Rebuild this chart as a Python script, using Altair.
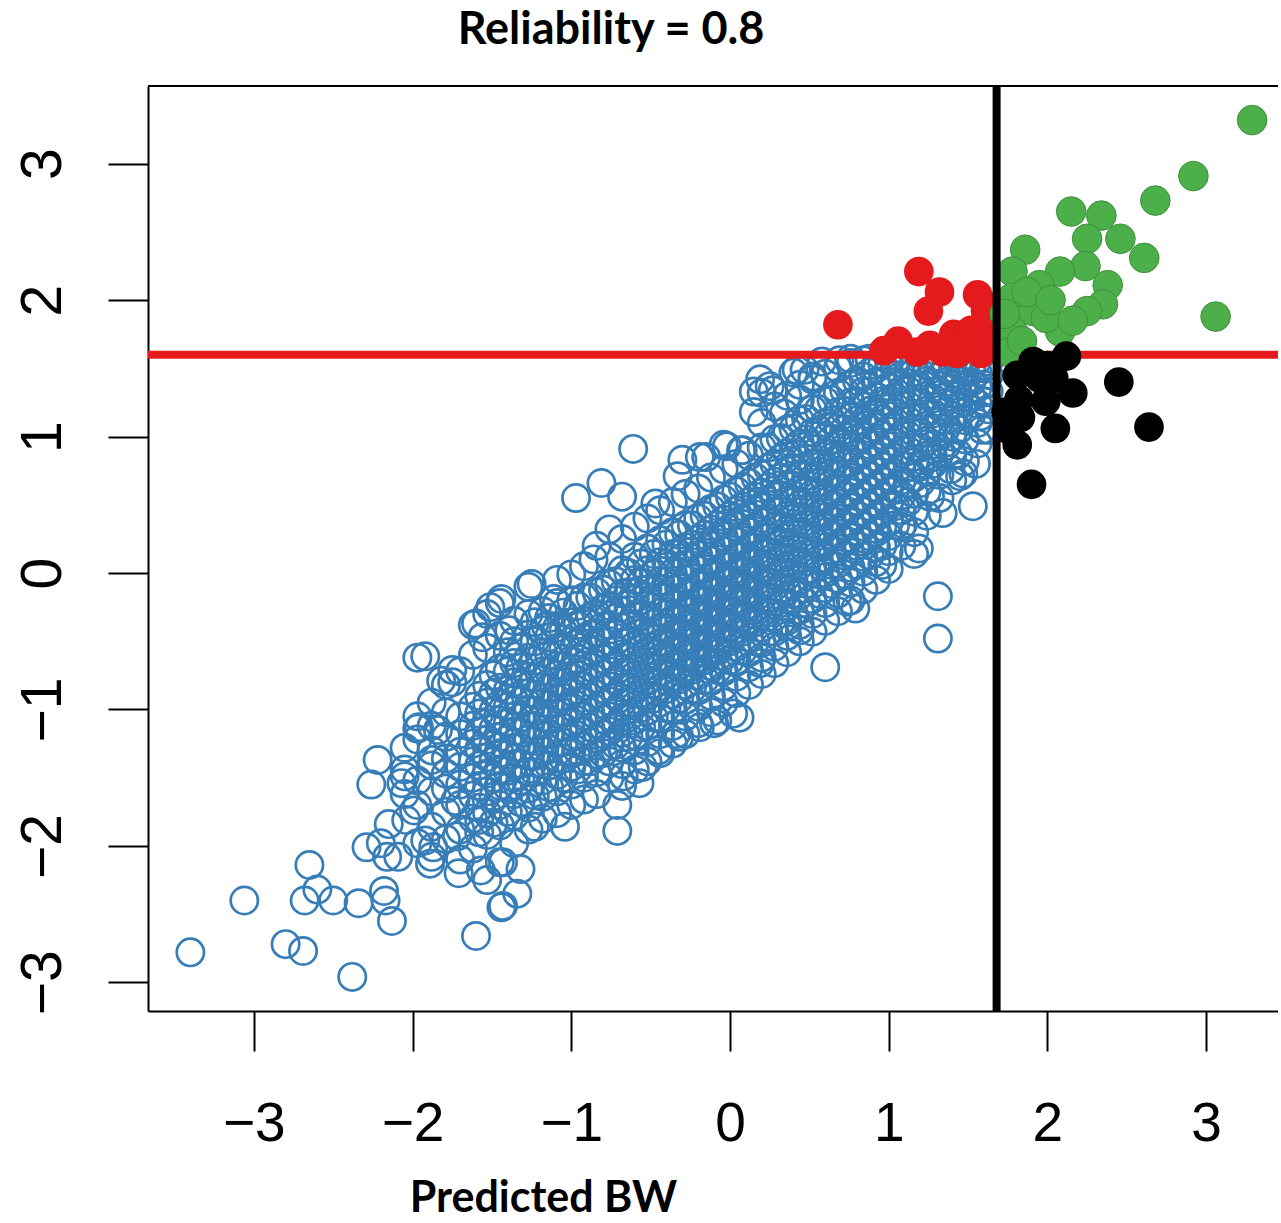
import altair as alt
import pandas as pd

title_text = "Reliability = 0.8"
x_label = "Predicted BW"
tick_values = [-3, -2, -1, 0, 1, 2, 3]
x_domain = [-3.667, 3.453]
y_domain = [-3.21, 3.57]
cut_x = 1.68
cut_y = 1.60

# dense core of the blue cloud, read column by column: (x, [y values])
blue_columns = [
    (-2.05, [-1.62, -1.44, -1.28]),
    (-1.97, [-1.98, -1.70, -1.52, -1.22, -1.05, -0.62]),
    (-1.88, [-2.08, -1.86, -1.60, -1.41, -1.30, -1.12, -0.95]),
    (-1.79, [-1.95, -1.75, -1.58, -1.47, -1.36, -1.20, -1.02, -0.82]),
    (-1.70, [-2.10, -1.88, -1.70, -1.55, -1.42, -1.31, -1.18, -1.05, -0.72]),
    (-1.62, [-2.02, -1.80, -1.63, -1.50, -1.38, -1.25, -1.12, -0.98, -0.60, -0.38]),
    (-1.53, [-2.25, -1.92, -1.76, -1.60, -1.47, -1.35, -1.22, -1.10, -0.95, -0.82, -0.55, -0.30]),
    (-1.45, [-2.12, -1.85, -1.70, -1.56, -1.44, -1.32, -1.20, -1.08, -0.96, -0.84, -0.70, -0.46, -0.22]),
    (-1.36, [-1.98, -1.78, -1.62, -1.50, -1.40, -1.28, -1.16, -1.05, -0.93, -0.80, -0.66, -0.50, -0.35]),
    (-1.27, [-1.88, -1.72, -1.58, -1.46, -1.34, -1.22, -1.12, -1.00, -0.88, -0.76, -0.62, -0.45, -0.30, -0.10]),
    (-1.18, [-1.80, -1.64, -1.52, -1.40, -1.30, -1.18, -1.06, -0.95, -0.84, -0.72, -0.58, -0.42, -0.28]),
    (-1.09, [-1.76, -1.60, -1.48, -1.36, -1.25, -1.14, -1.03, -0.92, -0.80, -0.68, -0.55, -0.40, -0.22, -0.05]),
    (-1.00, [-1.70, -1.55, -1.42, -1.31, -1.20, -1.09, -0.98, -0.87, -0.76, -0.64, -0.50, -0.36, -0.20]),
    (-0.92, [-1.66, -1.50, -1.38, -1.27, -1.16, -1.05, -0.94, -0.83, -0.72, -0.60, -0.48, -0.35, -0.18, 0.05]),
    (-0.84, [-1.62, -1.46, -1.33, -1.22, -1.11, -1.00, -0.89, -0.78, -0.67, -0.56, -0.44, -0.30, -0.14, 0.20]),
    (-0.76, [-1.50, -1.38, -1.27, -1.16, -1.05, -0.94, -0.83, -0.72, -0.61, -0.50, -0.38, -0.24, -0.08, 0.12]),
    (-0.68, [-1.56, -1.40, -1.28, -1.17, -1.06, -0.95, -0.84, -0.73, -0.62, -0.51, -0.40, -0.28, -0.15, 0.02, 0.25]),
    (-0.60, [-1.44, -1.30, -1.19, -1.08, -0.97, -0.86, -0.75, -0.64, -0.53, -0.42, -0.31, -0.19, -0.05, 0.12, 0.34]),
    (-0.52, [-1.38, -1.24, -1.12, -1.01, -0.90, -0.79, -0.68, -0.57, -0.46, -0.35, -0.24, -0.12, 0.02, 0.18, 0.40]),
    (-0.44, [-1.32, -1.18, -1.06, -0.95, -0.84, -0.73, -0.62, -0.51, -0.40, -0.29, -0.18, -0.06, 0.08, 0.24, 0.46]),
    (-0.36, [-1.25, -1.12, -1.00, -0.89, -0.78, -0.67, -0.56, -0.45, -0.34, -0.23, -0.12, 0.00, 0.14, 0.30, 0.52]),
    (-0.28, [-1.18, -1.05, -0.93, -0.82, -0.71, -0.60, -0.49, -0.38, -0.27, -0.16, -0.05, 0.06, 0.19, 0.35, 0.58]),
    (-0.20, [-1.10, -0.98, -0.86, -0.75, -0.64, -0.53, -0.42, -0.31, -0.20, -0.09, 0.02, 0.13, 0.25, 0.40, 0.62]),
    (-0.12, [-1.02, -0.90, -0.79, -0.68, -0.57, -0.46, -0.35, -0.24, -0.13, -0.02, 0.09, 0.20, 0.32, 0.47, 0.70]),
    (-0.04, [-0.95, -0.83, -0.72, -0.61, -0.50, -0.39, -0.28, -0.17, -0.06, 0.05, 0.16, 0.27, 0.39, 0.54, 0.76]),
    (0.04, [-0.88, -0.76, -0.65, -0.54, -0.43, -0.32, -0.21, -0.10, 0.01, 0.12, 0.23, 0.34, 0.46, 0.60, 0.80]),
    (0.12, [-0.82, -0.69, -0.58, -0.47, -0.36, -0.25, -0.14, -0.03, 0.08, 0.19, 0.30, 0.41, 0.52, 0.66, 0.86]),
    (0.20, [-0.74, -0.62, -0.51, -0.40, -0.29, -0.18, -0.07, 0.04, 0.15, 0.26, 0.37, 0.48, 0.59, 0.72, 0.92, 1.10]),
    (0.28, [-0.66, -0.54, -0.43, -0.32, -0.21, -0.10, 0.01, 0.12, 0.23, 0.34, 0.45, 0.56, 0.67, 0.80, 0.98, 1.22]),
    (0.36, [-0.58, -0.46, -0.35, -0.24, -0.13, -0.02, 0.09, 0.20, 0.31, 0.42, 0.53, 0.64, 0.75, 0.88, 1.05, 1.30]),
    (0.44, [-0.50, -0.38, -0.27, -0.16, -0.05, 0.06, 0.17, 0.28, 0.39, 0.50, 0.61, 0.72, 0.83, 0.95, 1.12, 1.38]),
    (0.52, [-0.43, -0.30, -0.19, -0.08, 0.03, 0.14, 0.25, 0.36, 0.47, 0.58, 0.69, 0.80, 0.91, 1.03, 1.20, 1.42]),
    (0.60, [-0.35, -0.22, -0.11, 0.00, 0.11, 0.22, 0.33, 0.44, 0.55, 0.66, 0.77, 0.88, 0.99, 1.10, 1.26, 1.46]),
    (0.68, [-0.28, -0.15, -0.04, 0.07, 0.18, 0.29, 0.40, 0.51, 0.62, 0.73, 0.84, 0.95, 1.06, 1.18, 1.32, 1.50]),
    (0.76, [-0.20, -0.07, 0.04, 0.15, 0.26, 0.37, 0.48, 0.59, 0.70, 0.81, 0.92, 1.03, 1.14, 1.25, 1.38, 1.54]),
    (0.84, [-0.12, 0.01, 0.12, 0.23, 0.34, 0.45, 0.56, 0.67, 0.78, 0.89, 1.00, 1.11, 1.22, 1.33, 1.44, 1.56]),
    (0.92, [-0.05, 0.08, 0.19, 0.30, 0.41, 0.52, 0.63, 0.74, 0.85, 0.96, 1.07, 1.18, 1.29, 1.40, 1.50]),
    (1.00, [0.03, 0.16, 0.27, 0.38, 0.49, 0.60, 0.71, 0.82, 0.93, 1.04, 1.15, 1.26, 1.37, 1.47, 1.56]),
    (1.08, [0.20, 0.34, 0.46, 0.57, 0.68, 0.79, 0.90, 1.01, 1.12, 1.23, 1.34, 1.45, 1.54]),
    (1.16, [0.30, 0.45, 0.58, 0.70, 0.81, 0.92, 1.03, 1.14, 1.25, 1.36, 1.47, 1.55]),
    (1.24, [0.42, 0.60, 0.74, 0.86, 0.97, 1.08, 1.19, 1.30, 1.41, 1.52]),
    (1.32, [0.55, 0.72, 0.88, 1.00, 1.11, 1.22, 1.33, 1.44, 1.54]),
    (1.40, [0.68, 0.86, 1.00, 1.12, 1.24, 1.35, 1.46, 1.55]),
    (1.48, [0.82, 0.98, 1.12, 1.25, 1.37, 1.48, 1.56]),
    (1.56, [0.95, 1.10, 1.24, 1.36, 1.47, 1.56]),
    (1.63, [1.05, 1.20, 1.33, 1.45, 1.55]),
]

# second, offset pass through the densest part of the cloud
blue_columns_inner = [
    (-1.58, [-1.90, -1.72, -1.56, -1.41, -1.29, -1.16, -1.03, -0.90]),
    (-1.49, [-1.83, -1.64, -1.50, -1.38, -1.26, -1.14, -1.01, -0.88, -0.75]),
    (-1.40, [-1.75, -1.57, -1.45, -1.33, -1.22, -1.10, -0.98, -0.86, -0.72, -0.58]),
    (-1.32, [-1.68, -1.52, -1.40, -1.28, -1.17, -1.06, -0.94, -0.82, -0.69, -0.55]),
    (-1.23, [-1.63, -1.46, -1.34, -1.23, -1.12, -1.01, -0.89, -0.77, -0.64, -0.50, -0.36]),
    (-1.14, [-1.57, -1.41, -1.29, -1.18, -1.07, -0.96, -0.84, -0.72, -0.60, -0.47, -0.33]),
    (-1.05, [-1.50, -1.36, -1.24, -1.13, -1.02, -0.91, -0.80, -0.68, -0.56, -0.43, -0.29]),
    (-0.96, [-1.44, -1.30, -1.19, -1.08, -0.97, -0.86, -0.75, -0.63, -0.51, -0.38, -0.24]),
    (-0.88, [-1.38, -1.24, -1.13, -1.02, -0.91, -0.80, -0.69, -0.57, -0.45, -0.32, -0.18]),
    (-0.80, [-1.32, -1.18, -1.07, -0.96, -0.85, -0.74, -0.63, -0.51, -0.39, -0.26, -0.12]),
    (-0.72, [-1.26, -1.12, -1.01, -0.90, -0.79, -0.68, -0.57, -0.45, -0.33, -0.20, -0.06]),
    (-0.64, [-1.20, -1.06, -0.95, -0.84, -0.73, -0.62, -0.51, -0.39, -0.27, -0.14, 0.00]),
    (-0.56, [-1.13, -0.99, -0.88, -0.77, -0.66, -0.55, -0.44, -0.32, -0.20, -0.07, 0.07]),
    (-0.48, [-1.06, -0.92, -0.81, -0.70, -0.59, -0.48, -0.37, -0.25, -0.13, 0.00, 0.14]),
    (-0.40, [-0.99, -0.85, -0.74, -0.63, -0.52, -0.41, -0.30, -0.18, -0.06, 0.07, 0.21]),
    (-0.32, [-0.92, -0.78, -0.67, -0.56, -0.45, -0.34, -0.23, -0.11, 0.01, 0.14, 0.28]),
    (-0.24, [-0.85, -0.71, -0.60, -0.49, -0.38, -0.27, -0.16, -0.04, 0.08, 0.21, 0.35]),
    (-0.16, [-0.78, -0.64, -0.53, -0.42, -0.31, -0.20, -0.09, 0.03, 0.15, 0.28, 0.42]),
    (-0.08, [-0.71, -0.57, -0.46, -0.35, -0.24, -0.13, -0.02, 0.10, 0.22, 0.35, 0.49]),
    (0.00, [-0.64, -0.50, -0.39, -0.28, -0.17, -0.06, 0.05, 0.17, 0.29, 0.42, 0.56]),
    (0.08, [-0.57, -0.43, -0.32, -0.21, -0.10, 0.01, 0.12, 0.24, 0.36, 0.49, 0.63]),
    (0.16, [-0.50, -0.36, -0.25, -0.14, -0.03, 0.08, 0.19, 0.31, 0.43, 0.56, 0.70]),
    (0.24, [-0.43, -0.29, -0.18, -0.07, 0.04, 0.15, 0.26, 0.38, 0.50, 0.63, 0.77, 0.92]),
    (0.32, [-0.36, -0.22, -0.11, 0.00, 0.11, 0.22, 0.33, 0.45, 0.57, 0.70, 0.84, 0.99]),
    (0.40, [-0.29, -0.15, -0.04, 0.07, 0.18, 0.29, 0.40, 0.52, 0.64, 0.77, 0.91, 1.06]),
    (0.48, [-0.22, -0.08, 0.03, 0.14, 0.25, 0.36, 0.47, 0.59, 0.71, 0.84, 0.98, 1.13]),
    (0.56, [-0.15, -0.01, 0.10, 0.21, 0.32, 0.43, 0.54, 0.66, 0.78, 0.91, 1.05, 1.20]),
    (0.64, [-0.08, 0.06, 0.17, 0.28, 0.39, 0.50, 0.61, 0.73, 0.85, 0.98, 1.12, 1.27]),
    (0.72, [-0.01, 0.13, 0.24, 0.35, 0.46, 0.57, 0.68, 0.80, 0.92, 1.05, 1.19, 1.34]),
    (0.80, [0.06, 0.20, 0.31, 0.42, 0.53, 0.64, 0.75, 0.87, 0.99, 1.12, 1.26, 1.41]),
    (0.88, [0.13, 0.27, 0.38, 0.49, 0.60, 0.71, 0.82, 0.94, 1.06, 1.19, 1.33, 1.47]),
    (0.96, [0.20, 0.34, 0.45, 0.56, 0.67, 0.78, 0.89, 1.01, 1.13, 1.26, 1.40, 1.53]),
    (1.04, [0.35, 0.49, 0.61, 0.73, 0.85, 0.96, 1.07, 1.18, 1.29, 1.40, 1.51]),
    (1.12, [0.52, 0.66, 0.78, 0.90, 1.01, 1.12, 1.23, 1.34, 1.45, 1.55]),
    (1.20, [0.66, 0.80, 0.92, 1.03, 1.14, 1.25, 1.36, 1.47, 1.56]),
    (1.28, [0.80, 0.94, 1.06, 1.17, 1.28, 1.39, 1.50]),
    (1.36, [0.93, 1.06, 1.18, 1.29, 1.40, 1.50]),
    (1.44, [1.05, 1.18, 1.30, 1.41, 1.52]),
    (1.52, [1.16, 1.29, 1.40, 1.51]),
    (1.60, [1.26, 1.38, 1.50]),
]

# scattered blue points around the core
blue_extra_x = [
    -3.40, -3.06, -2.80, -2.69, -2.38, -2.65, -2.68, -2.60, -2.50, -2.34,
    -2.18, -2.13, -2.17, -2.29, -2.22, -2.26, -2.16, -2.15, -2.07, -1.96,
    -1.84, -1.92, -1.87, -1.89, -1.71, -1.57, -1.44, -1.43, -1.34, -1.32,
    -1.43, -1.60, -1.99, -2.04, -1.88, -1.73, -1.72, -1.58, -2.05, -2.09,
    -2.20, -1.92, -1.75, -1.75, -1.82, -1.60, -1.56, -1.44, -1.51, -1.39,
    -1.25, -1.11, -1.00, -1.16, -1.97, -1.23, -1.04, -0.71, -0.71, -0.57,
    -0.67, -0.08, -0.32, -0.19, 0.02, 0.06, -0.10, -0.34, -0.45, -0.55,
    -0.61, -0.97, -0.81, -0.68, -0.76, -0.86, -0.47, -0.30, -0.19, -0.33,
    -0.04, 0.07, 0.15, 0.15, 0.25, 0.34, 0.40, 0.52, 0.47, 0.69,
    0.27, 0.42, 0.44, -0.15, -0.02, 0.08, 0.19, 0.20, 1.31, 1.31,
    0.60, 1.53, 1.34, 1.16, 1.19, 1.09, 1.47, 1.39, 1.28, 1.20,
    1.26, 0.96, 0.79, 0.74, 0.44, 0.36, 0.19, 0.04, -0.13, 1.58,
    1.59, 1.55, 1.45, 1.59, 1.44, 0.76, 0.58, 0.88, 1.05, 1.12,
]
blue_extra_y = [
    -2.78, -2.40, -2.72, -2.77, -2.96, -2.14, -2.40, -2.32, -2.40, -2.42,
    -2.33, -2.55, -2.40, -2.01, -1.37, -1.55, -2.08, -1.84, -1.54, -1.13,
    -1.15, -1.96, -2.01, -2.13, -2.20, -2.18, -2.45, -2.44, -2.35, -2.17,
    -2.12, -2.66, -1.74, -1.81, -1.37, -1.67, -1.93, -1.81, -1.49, -2.08,
    -1.98, -0.61, -0.71, -0.80, -0.79, -0.37, -0.47, -0.19, -0.25, -0.42,
    -0.08, -0.19, -0.01, -0.39, -1.14, -1.86, -1.86, -1.89, -1.70, -1.54,
    -1.49, -1.08, -1.20, -1.13, -1.03, -1.06, -1.10, -1.18, -1.30, -1.42,
    0.91, 0.55, 0.66, 0.56, 0.32, 0.10, 0.51, 0.83, 0.85, 0.71,
    0.94, 0.90, 1.33, 1.18, 1.37, 1.17, 1.47, 1.44, 1.49, 1.56,
    1.34, 1.49, 1.27, 0.85, 0.93, 0.90, 1.42, 1.32, -0.17, -0.48,
    -0.69, 0.49, 0.44, 0.14, 0.18, 0.36, 0.73, 0.76, 0.85, 0.78,
    0.56, 0.06, -0.26, -0.21, -0.42, -0.39, -0.66, -0.64, -0.71, 1.15,
    1.32, 0.80, 0.71, 1.05, 0.87, 1.57, 1.55, 1.57, 1.57, 1.56,
]

red_x = [1.19, 1.32, 1.25, 0.68, 1.56, 1.66, 1.06, 1.26, 1.41, 1.49,
         1.58, 1.34, 1.18, 1.43, 1.58, 0.97, 1.64, 1.52, 1.61]
red_y = [2.21, 2.06, 1.92, 1.82, 2.04, 1.95, 1.70, 1.67, 1.75, 1.67,
         1.72, 1.62, 1.62, 1.61, 1.61, 1.63, 1.80, 1.78, 1.92]

green_x = [3.29, 2.92, 2.68, 2.15, 2.34, 2.46, 2.61, 2.25, 1.86, 3.06,
           2.38, 2.24, 2.08, 1.78, 1.95, 2.35, 2.25, 1.78, 1.91, 2.08,
           1.78, 1.76, 1.99, 1.87, 1.73, 2.02, 1.84, 2.16]
green_y = [3.32, 2.91, 2.73, 2.65, 2.62, 2.45, 2.31, 2.45, 2.37, 1.88,
           2.11, 2.25, 2.21, 2.21, 2.11, 1.97, 1.92, 2.02, 1.92, 1.77,
           1.77, 1.62, 1.87, 2.06, 1.90, 2.00, 1.70, 1.85]

black_x = [2.12, 1.91, 2.45, 2.16, 2.04, 1.99, 1.82, 1.83, 2.05, 2.64,
           1.81, 1.90, 1.95, 1.81, 1.74, 1.76, 2.00]
black_y = [1.59, 1.55, 1.40, 1.32, 1.43, 1.26, 1.27, 1.14, 1.06, 1.07,
           0.94, 0.65, 1.43, 1.45, 1.18, 1.05, 1.52]

# ---- build tables ----
bx, by = [], []
for cx, col in blue_columns + blue_columns_inner:
    for v in col:
        bx.append(cx)
        by.append(v)
bx += blue_extra_x
by += blue_extra_y
blue_df = pd.DataFrame({"x": bx, "y": by})
red_df = pd.DataFrame({"x": red_x, "y": red_y})
green_df = pd.DataFrame({"x": green_x, "y": green_y})
black_df = pd.DataFrame({"x": black_x, "y": black_y})
cut_df = pd.DataFrame({"x": [cut_x], "y": [cut_y]})

xs = alt.Scale(domain=x_domain, nice=False, zero=False)
ys = alt.Scale(domain=y_domain, nice=False, zero=False)

x_axis = alt.Axis(
    values=tick_values, format="d", grid=False,
    domain=True, domainColor="black", domainWidth=2,
    ticks=True, tickSize=40, tickWidth=2, tickColor="black",
    labelFont="Liberation Sans", labelFontSize=55, labelColor="black",
    labelPadding=46, labelFlush=False, labelOverlap=False,
    title=x_label, titleFont="Lato", titleFontSize=43, titleFontWeight="bold",
    titleColor="black", titleX=395, titleY=200, titleAlign="center",
    titleBaseline="alphabetic",
)
y_axis = alt.Axis(
    values=tick_values, format="d", grid=False,
    domain=True, domainColor="black", domainWidth=2,
    ticks=True, tickSize=40, tickWidth=2, tickColor="black",
    labelFont="Liberation Sans", labelFontSize=57, labelColor="black",
    labelAngle=270, labelAlign="center", labelBaseline="alphabetic",
    labelPadding=48, labelFlush=False, labelOverlap=False,
    title=None,
)

X = alt.X("x:Q", scale=xs, axis=x_axis)
Y = alt.Y("y:Q", scale=ys, axis=y_axis)

blue = alt.Chart(blue_df).mark_point(
    shape="circle", filled=False, size=745, strokeWidth=2.7,
    color="#377EB8", opacity=1,
).encode(x=X, y=Y)

hline = alt.Chart(cut_df).mark_rule(color="#E41A1C", strokeWidth=8).encode(y=Y)
vline = alt.Chart(cut_df).mark_rule(color="black", strokeWidth=8).encode(x=X)

red = alt.Chart(red_df).mark_circle(size=880, opacity=1, color="#E41A1C").encode(x=X, y=Y)
green = alt.Chart(green_df).mark_circle(
    size=880, opacity=1, color="#4DAF4A", stroke="#3f8f3c", strokeWidth=1
).encode(x=X, y=Y)
black = alt.Chart(black_df).mark_circle(size=880, opacity=1, color="black").encode(x=X, y=Y)

top_border = alt.Chart(cut_df).mark_rule(color="black", strokeWidth=2).encode(y=alt.value(0))

chart = alt.layer(blue, hline, red, green, vline, black, top_border).properties(
    width=1130,
    height=925,
    padding={"left": 148, "top": 86, "right": 0, "bottom": 210},
    autosize=alt.AutoSizeParams(type="none"),
    title=alt.TitleParams(
        text=title_text, font="Lato", fontSize=45, fontWeight="bold",
        color="black", anchor="middle", dx=-102, dy=7, offset=0,
        baseline="alphabetic",
    ),
).configure_view(stroke=None)

chart.save("out.html", embed_options={"renderer": "svg", "actions": False})
